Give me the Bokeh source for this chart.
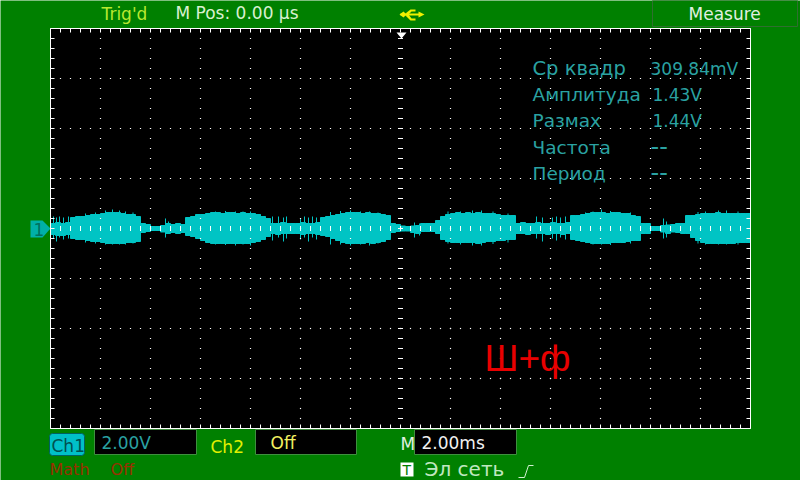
from bokeh.plotting import figure
from bokeh.models import Range1d, FixedTicker, LinearAxis
from bokeh.core.properties import value
from bokeh.embed import file_html
from bokeh.resources import INLINE
import numpy as np

# Envelope of the trace in volts, one value per 0.2 ms from -14 ms to +14 ms
upper = [.2,.24,.2,.24, .44,.48,.48, .52,.56,.56, .6,.64,.64,.64,.6, .56,.56,.48, .2,.16, .08,.08, .12,.2,
         .16,.2,.16, .44,.48, .56,.56, .6,.64,.64,.6,.64,.64,.6,.64,.6,.6,.56, .48,.4,
         .2,.2,.24,.2,.2,.2,.24,.2,.2,.24, .44,.48, .52,.56, .6,.64,.64,.64,.6,.64,.6,.6,.56, .52, .2,.16, .1,.08, .1,.12,
         .2,.2,.2, .32, .48, .56,.6,.64,.6,.64, .6,.64,.6,.6,.6, .56,.52,.52, .52,
         .2,.24,.2,.2,.24,.2,.2,.24,.2,.2,.24, .52,.52,.56,.6, .64,.64,.64,.6,.64,.64,.6,.6, .52,.48, .2,.2, .08,.08, .12,.14,
         .16,.2,.2, .52,.52,.56, .6,.6,.6,.64,.6,.6,.6,.6,.6,.6]
lower = [.24,.28,.28,.24, .4,.44,.44, .48,.52,.52, .56,.6,.6,.6,.6, .56,.56,.52, .16,.12, .08,.08, .14,.2,
         .16,.2,.16, .28,.32, .4,.48, .56,.6,.6,.6,.6,.6,.6,.6,.6,.56,.52, .44,.32,
         .2,.24,.2,.2,.2,.2,.24,.2,.2,.24, .28,.32, .4,.48, .56,.6,.6,.6,.6,.56,.6,.56,.52, .44, .16,.12, .1,.1, .16,.2,
         .12,.12,.12, .2, .44, .52,.56,.56,.56,.56, .56,.6,.56,.52,.52, .48,.48,.44, .44,
         .2,.2,.24,.2,.2,.2,.24,.2,.2,.24,.2, .44,.48,.52,.56, .6,.6,.6,.6,.56,.56,.56,.52, .48,.48, .2,.2, .08,.08, .14,.2,
         .14,.16,.2, .2,.36,.48, .56,.6,.6,.6,.6,.6,.6,.56,.56,.56]

# Narrow spikes standing out of the envelope (ms, V above, V below)
spike_t  = [-13.88,-13.76,-13.64,-13.48,-13.28,-11.8,-11.52,-11.24,-9.4,-9.28,-6.6,-6.0,-5.12,-4.88,-4.68,-4.56,-4.0,-3.84,-3.68,-3.52,-3.36,-2.4,-2.0,-1.24,
            .56,.76,2.88,3.24,5.44,5.68,6.08,6.24,6.4,6.6,8.04,10.52,10.64,12.72,13.04,
            -12.6,-12.2,-11.0,-10.7,-7.4,-7.0,-6.3,-5.6,-2.8,-1.6,-.9,1.9,2.4,3.7,4.3,7.4,7.7,8.4,9.2,11.9,12.2,13.5]
spike_hi = [.48,.44,.48,.44,.48,.72,.76,.72,.4,.28,.68,.68,.48,.48,.44,.48,.4,.48,.44,.48,.44,.7,.72,.68,
            .24,.2,.72,.72,.48,.44,.44,.48,.44,.48,.76,.4,.28,.72,.72,
            .6,.64,.68,.64,.68,.7,.68,.56,.66,.68,.64,.68,.68,.68,.6,.64,.68,.7,.64,.66,.68,.68]
spike_lo = [.4,.52,.36,.44,.4,.64,.64,.64,.36,.2,.68,.68,.48,.36,.52,.4,.44,.36,.52,.36,.44,.64,.68,.68,
            .36,.28,.68,.68,.4,.52,.4,.48,.36,.44,.64,.4,.36,.64,.64,
            .56,.6,.64,.6,.64,.66,.64,.48,.64,.64,.6,.6,.64,.62,.56,.56,.64,.66,.6,.6,.64,.64]

SCOPE_GREEN = "#008000"
TEAL = "#00C4C4"
DIM = "#2AA2A2"
FONT = "DejaVu Sans"

def X(px):
    return (px - 400) / 25

def Y(py):
    return (228 - py) / 25

p = figure(width=800, height=480, output_backend="svg", toolbar_location=None,
           x_range=Range1d(X(0), X(800)), y_range=Range1d(Y(480), Y(0)),
           min_border=0, background_fill_color=SCOPE_GREEN, border_fill_color=SCOPE_GREEN,
           outline_line_color=None, x_axis_type=None, y_axis_type=None,
           styles={"position": "absolute", "left": "0px", "top": "0px"})
p.grid.visible = False

def box(l, r, t_, b, fill, line=None, radius=0):
    p.quad(left=[X(l)], right=[X(r)], top=[Y(t_)], bottom=[Y(b)], fill_color=fill,
           line_color=line, line_width=1, border_radius=radius)

def poly(pts, fill):
    p.patch([X(a) for a, _ in pts], [Y(b) for _, b in pts], fill_color=fill, line_color=None)

def text(s, x, y, color, size=17, font=FONT):
    # this renderer places the text about 0.37 em below the requested baseline
    p.text(x=[X(x)], y=[Y(y - 0.37 * size)], text=[s], text_color=color, text_font=value(font),
           text_font_size=f"{size}px", text_baseline="alphabetic")

# screen
box(50, 750, 28, 428, "black")

# border ticks are minor ticks of real axes pinned to the screen edges
xt = list(np.round(np.arange(-14, 14.01, .4), 2))
yt = list(np.round(np.arange(-8, 8.01, .4), 2))
for place, loc, ticks, bounds in (("below", -8, xt, (-14, 14)), ("above", 8, xt, (-14, 14)),
                                  ("left", -14, yt, (-8, 8)), ("right", 14, yt, (-8, 8))):
    p.add_layout(LinearAxis(ticker=FixedTicker(ticks=[], minor_ticks=ticks), fixed_location=loc, bounds=bounds,
                            axis_line_color="white", minor_tick_line_color="white", minor_tick_in=4,
                            minor_tick_out=0, major_tick_line_color=None), place)

# the trace
t = -14 + 0.1 + 0.2 * np.arange(len(upper))
p.vbar(x=t, width=0.2, top=upper, bottom=-np.array(lower), fill_color=TEAL, line_color=TEAL, line_width=1)
p.segment(x0=spike_t, x1=spike_t, y0=spike_hi, y1=-np.array(spike_lo), line_color=TEAL, line_width=1)

# dotted graticule
gx, gy = [], []
for d in range(-6, 7):
    if d:
        v = np.arange(-7.6, 7.61, .4)
        gx += [d * 2.0] * len(v)
        gy += list(v)
for d in range(-3, 4):
    if d:
        h = np.arange(-13.6, 13.61, .4)
        gx += list(h)
        gy += [d * 2.0] * len(h)
p.scatter(gx, gy, marker="square", size=1.2, fill_color="white", line_color=None)

# centre cross ticks
cv = np.round(np.arange(-7.6, 7.61, .4), 2)
ch = np.round(np.arange(-13.6, 13.61, .4), 2)
p.segment(x0=[-.1] * len(cv), x1=[.1] * len(cv), y0=cv, y1=cv, line_color="white", line_width=1)
p.segment(x0=ch, x1=ch, y0=[-.1] * len(ch), y1=[.1] * len(ch), line_color="white", line_width=1)

# panels around the screen
box(652, 797, 0, 26, SCOPE_GREEN, "#2f6f2f")
box(94, 196, 429, 454, "black", "#3f8f3f")
box(255, 356, 429, 454, "black", "#3f8f3f")
box(414, 516, 429, 454, "black", "#3f8f3f")
box(49, 84, 433, 455, "#00C0C8", "#006060", radius=3)
box(400, 413, 462, 476, "white")

# channel marker and trigger marker
poly([(30, 220), (42, 220), (50, 228), (42, 237), (30, 237)], "#00B0A8")
poly([(396, 32), (406, 32), (401, 38)], "white")

# USB symbol
poly([(400, 13), (420, 13), (420, 15), (400, 15)], "#F0F000")
poly([(399, 14), (403, 11), (406, 14), (403, 17)], "#F0F000")
poly([(418, 11), (424, 14), (418, 17)], "#F0F000")
poly([(405, 13), (410, 9), (415, 9), (415, 11), (411, 11), (408, 14)], "#F0F000")
poly([(405, 15), (410, 20), (415, 20), (415, 18), (411, 18), (408, 14)], "#F0F000")

# trigger-slope symbol
p.line([X(a) for a in (518, 524, 528, 533)], [Y(b) for b in (477, 477, 465, 465)], line_color="#D0F0D0", line_width=1)

text("Trig'd", 101, 20, "#B8E830")
text("M Pos: 0.00 \u00b5s", 175, 19, "#D8F0D0")
text("Measure", 688, 20, "#E0F0E0")

text("Ср квадр", 532, 75, DIM, 19.5)
text("309.84mV", 650, 75, DIM)
text("Амплитуда", 532, 101, DIM, 18.5)
text("1.43V", 652, 101, DIM)
text("Размах", 532, 127, DIM, 18.5)
text("1.44V", 652, 127, DIM)
text("Частота", 532, 154, DIM, 18.5)
text("--", 650, 154, DIM, 24)
text("Период", 532, 180, DIM, 18.5)
text("--", 650, 180, DIM, 24)

text("1", 33, 235, "#007060")
text("Ш+ф", 484, 372, "#E80000", 37, "Liberation Sans")

text("Ch1", 51, 452, "#005050")
text("2.00V", 101, 449, DIM)
text("Ch2", 210, 453, "#E0F000")
text("Off", 270, 449, "#F0F060")
text("M", 400, 450, "#E0F0E0")
text("2.00ms", 421, 449, "#F0F0F0")
text("Math", 49, 475, "#983000", 16)
text("Off", 110, 475, "#983000", 16)
text("T", 402, 475, SCOPE_GREEN, 14)
text("Эл сеть", 424, 476, "#C0E8C0", 20)

open("out.html", "w").write(file_html(p, INLINE))
